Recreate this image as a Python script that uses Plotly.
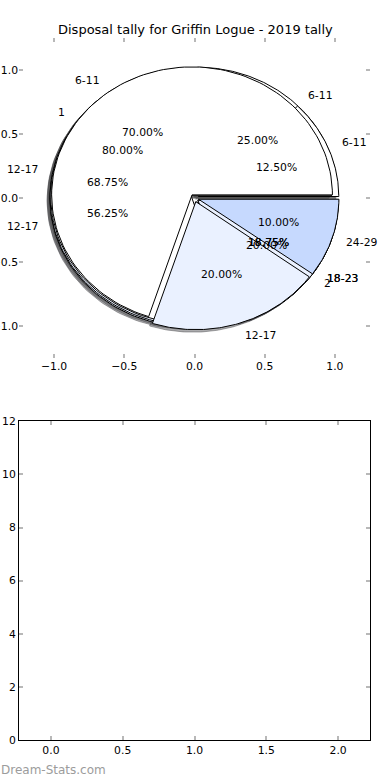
import numpy as np
import plotly.graph_objects as go

# ---------------- data ----------------
chart_title = "Disposal tally for Griffin Logue - 2019 tally"
watermark = "Dream-Stats.com"

# pies, in the order they are drawn (last one on top)
pie_a_labels = ["6-11", "12-17", "18-23"]
pie_a_counts = [4, 9, 3]
pie_b_labels = ["6-11", "12-17", "18-23"]
pie_b_counts = [2, 11, 3]
pie_c_labels = ["1", "2"]
pie_c_counts = [8, 2]
pie_d_labels = ["6-11", "12-17", "24-29"]
pie_d_counts = [7, 2, 1]

wedge_colors = ["#FFFFFF", "#EAF1FF", "#C6D9FE"]

pie_ticks = [-1.0, -0.5, 0.0, 0.5, 1.0]
lower_xticks = [0.0, 0.5, 1.0, 1.5, 2.0]
lower_yticks = [0, 2, 4, 6, 8, 10, 12]

# ---------------- style ----------------
EXPLODE = 0.03
SHADOW_OFF = -0.02
LABEL_DIST = 1.1
PCT_DIST = 0.6
FONT = "DejaVu Sans"
TXT = 10.8
TICKC = "#b8b8b8"

pies = [
    (pie_a_labels, pie_a_counts),
    (pie_b_labels, pie_b_counts),
    (pie_c_labels, pie_c_counts),
    (pie_d_labels, pie_d_counts),
]


def hex_rgb(h):
    h = h.lstrip("#")
    return tuple(int(h[i:i + 2], 16) for i in (0, 2, 4))


def wedge_poly(t1, t2, cx, cy, n=120):
    th = np.radians(np.linspace(t1, t2, n))
    xs = np.concatenate([[cx], cx + np.cos(th), [cx]])
    ys = np.concatenate([[cy], cy + np.sin(th), [cy]])
    return xs, ys


shadow_traces = []
wedge_traces = []
annotations = []

for labels, counts in pies:
    vals = np.asarray(counts, dtype=float)
    fr = vals / vals.sum()
    start = 0.0
    for i, (lab, f) in enumerate(zip(labels, fr)):
        t1 = start * 360.0
        t2 = (start + f) * 360.0
        tm = np.radians((t1 + t2) / 2.0)
        cx = EXPLODE * np.cos(tm)
        cy = EXPLODE * np.sin(tm)
        xs, ys = wedge_poly(t1, t2, cx, cy)
        col = wedge_colors[i % len(wedge_colors)]
        r, g, b = hex_rgb(col)
        sc = "rgba(%d,%d,%d,0.45)" % (int(r * 0.3), int(g * 0.3), int(b * 0.3))
        shadow_traces.append(go.Scatter(
            x=xs + SHADOW_OFF, y=ys + SHADOW_OFF, mode="lines", fill="toself",
            fillcolor=sc, line=dict(color=sc, width=1),
            hoverinfo="skip", showlegend=False, xaxis="x", yaxis="y"))
        wedge_traces.append(go.Scatter(
            x=xs, y=ys, mode="lines", fill="toself", fillcolor=col,
            line=dict(color="black", width=1),
            hoverinfo="skip", showlegend=False, xaxis="x", yaxis="y"))
        lx = cx + LABEL_DIST * np.cos(tm)
        ly = cy + LABEL_DIST * np.sin(tm)
        annotations.append(dict(
            x=lx, y=ly, xref="x", yref="y", text=lab, showarrow=False,
            xanchor="left" if lx > 0 else "right", yanchor="middle",
            font=dict(family=FONT, size=TXT, color="black"), borderpad=0))
        px = cx + PCT_DIST * np.cos(tm)
        py = cy + PCT_DIST * np.sin(tm)
        annotations.append(dict(
            x=px, y=py, xref="x", yref="y", text="%1.2f%%" % (f * 100),
            showarrow=False, xanchor="center", yanchor="middle",
            font=dict(family=FONT, size=TXT, color="black"), borderpad=0))
        start += f

fig = go.Figure(shadow_traces + wedge_traces)
fig.add_trace(go.Scatter(x=[], y=[], xaxis="x2", yaxis="y2",
                         showlegend=False, hoverinfo="skip"))

annotations.append(dict(
    x=195 / 390, y=1 - 30 / 780, xref="paper", yref="paper", text=chart_title,
    showarrow=False, xanchor="center", yanchor="middle",
    font=dict(family=FONT, size=13, color="black")))
annotations.append(dict(
    x=0.0, y=1 - 770 / 780, xref="paper", yref="paper", text=watermark,
    showarrow=False, xanchor="left", yanchor="middle", borderpad=0,
    font=dict(family=FONT, size=12, color="#9c9c9c")))

XDOM = [19 / 390, 370 / 390]
axis_common = dict(ticks="inside", ticklen=4, tickwidth=1.5, tickcolor=TICKC,
                   showgrid=False, zeroline=False, mirror="ticks",
                   automargin=False,
                   tickfont=dict(family=FONT, size=TXT, color="black"))

fig.update_layout(
    width=390, height=780,
    margin=dict(l=0, r=0, t=0, b=0, autoexpand=False),
    paper_bgcolor="white", plot_bgcolor="white",
    showlegend=False,
    annotations=annotations,
    xaxis=dict(domain=XDOM, range=[-1.25, 1.25], tickvals=pie_ticks,
               tickformat=".1f", showline=False, anchor="y", **axis_common),
    yaxis=dict(domain=[1 - 358 / 780, 1 - 38 / 780], range=[-1.25, 1.25],
               tickvals=pie_ticks, tickformat=".1f", showline=False,
               anchor="x", **axis_common),
    xaxis2=dict(domain=XDOM, range=[-0.2222, 2.2222], tickvals=lower_xticks,
                tickformat=".1f", showline=True, linecolor="black",
                linewidth=1, anchor="y2", **axis_common),
    yaxis2=dict(domain=[1 - 740 / 780, 1 - 421.3 / 780], range=[0, 12],
                tickvals=lower_yticks, showline=True, linecolor="black",
                linewidth=1, anchor="x2", **axis_common),
)

fig.write_html("out.html",
               config={"displayModeBar": False},
               post_script="document.body.style.margin='0';")
